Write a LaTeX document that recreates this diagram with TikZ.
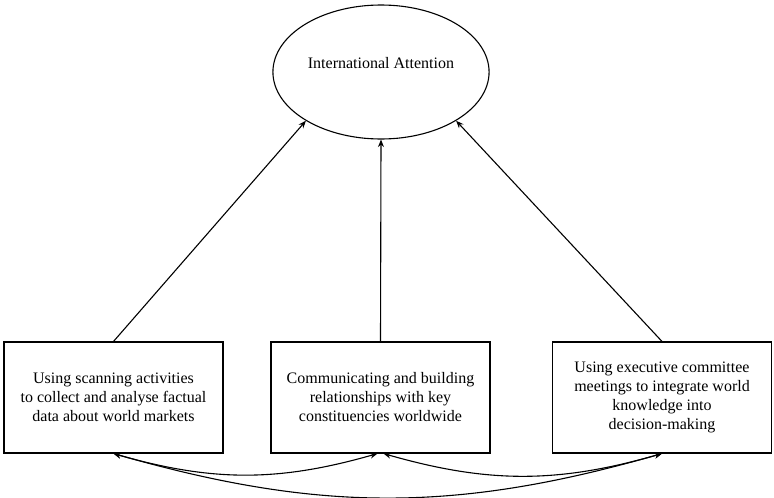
\documentclass[tikz,border=0pt]{standalone}
\usepackage{fontspec}
\setmainfont{Liberation Serif}
\usetikzlibrary{shapes.geometric,arrows.meta}
\begin{document}
\begin{tikzpicture}[x=1pt,y=-1pt,
	font=\fontsize{16}{19}\selectfont,
	box/.style={draw,line width=1.1pt,minimum width=219pt,minimum height=111pt,align=center,inner sep=2pt},
	oval/.style={draw,ellipse,line width=1.1pt,minimum width=190pt,minimum height=134pt,text depth=19pt},
	up/.style={-{Stealth[length=7.5pt,width=6pt]},line width=1.1pt},
	both/.style={{Stealth[length=7.5pt,width=6pt]}-{Stealth[length=7.5pt,width=6pt]},line width=1.1pt,bend right=16},
	]
	\useasboundingbox (0,0) rectangle (774,498);
	\path
	(381,72) node[oval] (attn) {International Attention}          % <<< top
	(113.5,397.5) node[box] (scan) {Using scanning activities\\to collect and analyse factual\\data about world markets}   % <<< bottom row
	++(267,0) node[box] (comm) {Communicating and building\\relationships with key\\constituencies worldwide}
	++(281.5,0) node[box] (exec) {Using executive committee\\meetings to integrate world\\knowledge into\\decision-making};
	\draw[up] (scan.north)--(attn.213);
	\draw[up] (comm.north)--(attn.south);
	\draw[up] (exec.north)--(attn.327);
	\draw[both] (scan.south) to ([xshift=-3pt]comm.south);
	\draw[both] ([xshift=3pt]comm.south) to (exec.south);
	\draw[both] (scan.south) to (exec.south);
\end{tikzpicture}
\end{document}
